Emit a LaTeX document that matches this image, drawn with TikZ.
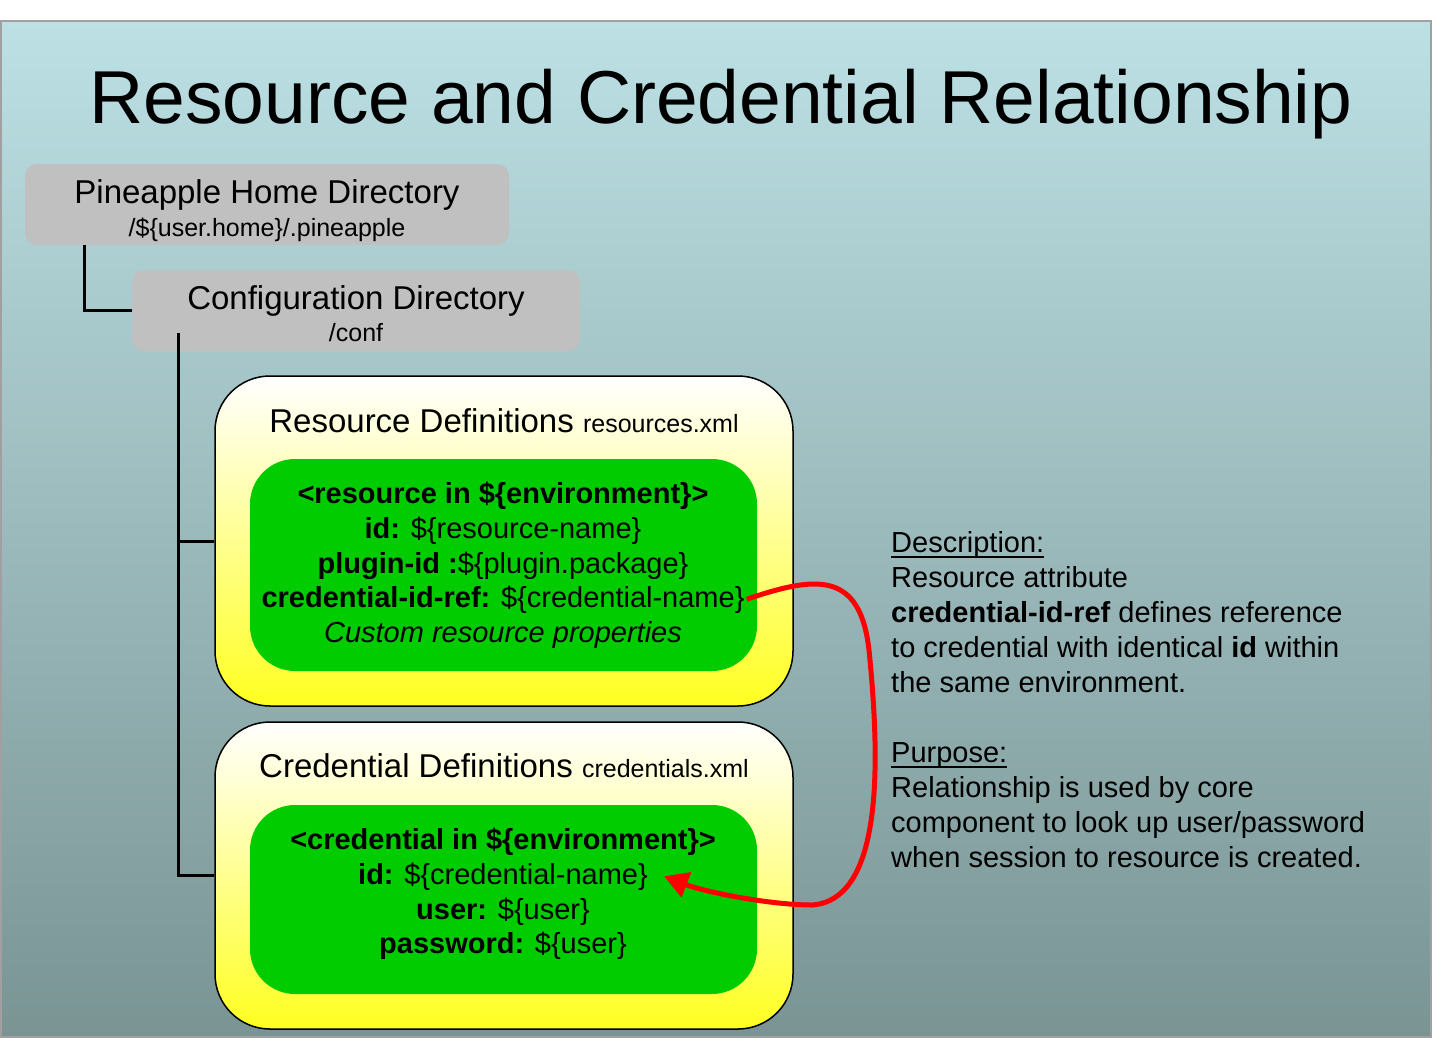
\documentclass[tikz,border=0pt]{standalone}
\usepackage{fontspec}
\setmainfont{Liberation Sans}
\usetikzlibrary{arrows.meta,calc}
\definecolor{bgtop}{RGB}{188,224,228}
\definecolor{bgbottom}{RGB}{122,148,148}
\definecolor{framegray}{RGB}{160,160,160}
\definecolor{dirgray}{RGB}{192,192,192}
\definecolor{defyellow}{RGB}{255,255,32}
\definecolor{entrygreen}{RGB}{0,204,0}
\newcommand\ulword[1]{\setbox0\hbox{#1}\rlap{\vrule width\wd0 height -3.5pt depth 5.3pt}\box0}
\tikzset{
  dirbox/.style={fill=dirgray,rounded corners=12pt,inner sep=0pt},
  defbox/.style={draw=black,line width=1.5pt,rounded corners=55pt,top color=white,bottom color=defyellow,inner sep=0pt},
  entrybox/.style={fill=entrygreen,rounded corners=45pt,inner sep=0pt},
  tree/.style={line width=3pt},
  link/.style={draw=red,line width=5pt,-{Triangle[length=24pt,width=26pt]}},
  bigname/.style={anchor=base,inner sep=0pt,font=\fontsize{33}{40}\selectfont},
  smallname/.style={anchor=base,inner sep=0pt,font=\fontsize{25}{30}\selectfont},
  gline/.style={anchor=base,inner sep=2pt,font=\fontsize{29}{35}\selectfont},
}

\begin{document}
\begin{tikzpicture}[x=1pt,y=-1pt]
  \useasboundingbox (0,0) rectangle (1432,1039);
  \draw[draw=framegray,line width=2pt,top color=bgtop,bottom color=bgbottom] (1,21) rectangle (1431,1037);
  \node[anchor=base,font=\fontsize{75}{80}\selectfont] (title) at (721,123) {Resource and Credential Relationship};

  \node[dirbox,minimum width=484pt,minimum height=81pt] (home) at (267,204.5) {};
  \node[bigname] (homename) at (267,203) {Pineapple Home Directory};
  \node[smallname] (homepath) at (267,236) {/\$\{user.home\}/.pineapple};

  \node[dirbox,minimum width=448pt,minimum height=81pt] (conf) at (356,310.5) {};
  \node[bigname] (confname) at (356,309) {Configuration Directory};
  \node[smallname] (confpath) at (356,341) {/conf};

  \node[defbox,minimum width=578pt,minimum height=330pt] (resbox) at (504,541) {};
  \node[entrybox,minimum width=507pt,minimum height=212pt] (resgreen) at (503.5,565) {};
  \node[bigname] (restitle) at (504,432) {Resource Definitions {\fontsize{25}{30}\selectfont resources.xml}};
  \node[gline] (resopen) at (503,503) {\textbf{<resource in \$\{environment\}>}};
  \node[gline] (resid) at (503,538) {\textbf{id:} \$\{resource-name\}};
  \node[gline] (resplugin) at (503,573) {\textbf{plugin-id :}\$\{plugin.package\}};
  \node[gline] (resref) at (503,607) {\textbf{credential-id-ref:} \$\{credential-name\}};
  \node[gline] (rescustom) at (503,642) {\textit{Custom resource properties}};

  \node[defbox,minimum width=578pt,minimum height=307pt] (credbox) at (504,875.5) {};
  \node[entrybox,minimum width=507pt,minimum height=189pt] (credgreen) at (503.5,899.5) {};
  \node[bigname] (credtitle) at (504,777) {Credential Definitions {\fontsize{25}{30}\selectfont credentials.xml}};
  \node[gline] (credopen) at (503,849) {\textbf{<credential in \$\{environment\}>}};
  \node[gline] (credid) at (503,884) {\textbf{id:} \$\{credential-name\}};
  \node[gline] (creduser) at (503,919) {\textbf{user:} \$\{user\}};
  \node[gline] (credpass) at (503,953) {\textbf{password:} \$\{user\}};

  \coordinate (hometrunk) at (84,245);
  \coordinate (conftrunk) at (178,333);
  \draw[tree] (hometrunk) |- (conf.west);
  \draw[tree] (conftrunk) |- (credbox.west);
  \draw[tree] (conftrunk |- resbox.west) -- (resbox.west);

  \draw[link] (resref.east) .. controls (815,576) and (860,570) .. (869,650)
    .. controls (880,760) and (884,900) .. (812,905)
    .. controls (770,905) and (705,892) .. ([xshift=14pt]credid.east);

  \node[anchor=north west,inner sep=0pt,align=left,font=\fontsize{29}{35}\selectfont] (notes) at (891,531)
    {\ulword{Description:}\\
     Resource attribute\\
     \textbf{credential-id-ref} defines reference\\
     to credential with identical \textbf{id} within\\
     the same environment.\\[35pt]
     \ulword{Purpose:}\\
     Relationship is used by core\\
     component to look up user/password\\
     when session to resource is created.};
\end{tikzpicture}
\end{document}
